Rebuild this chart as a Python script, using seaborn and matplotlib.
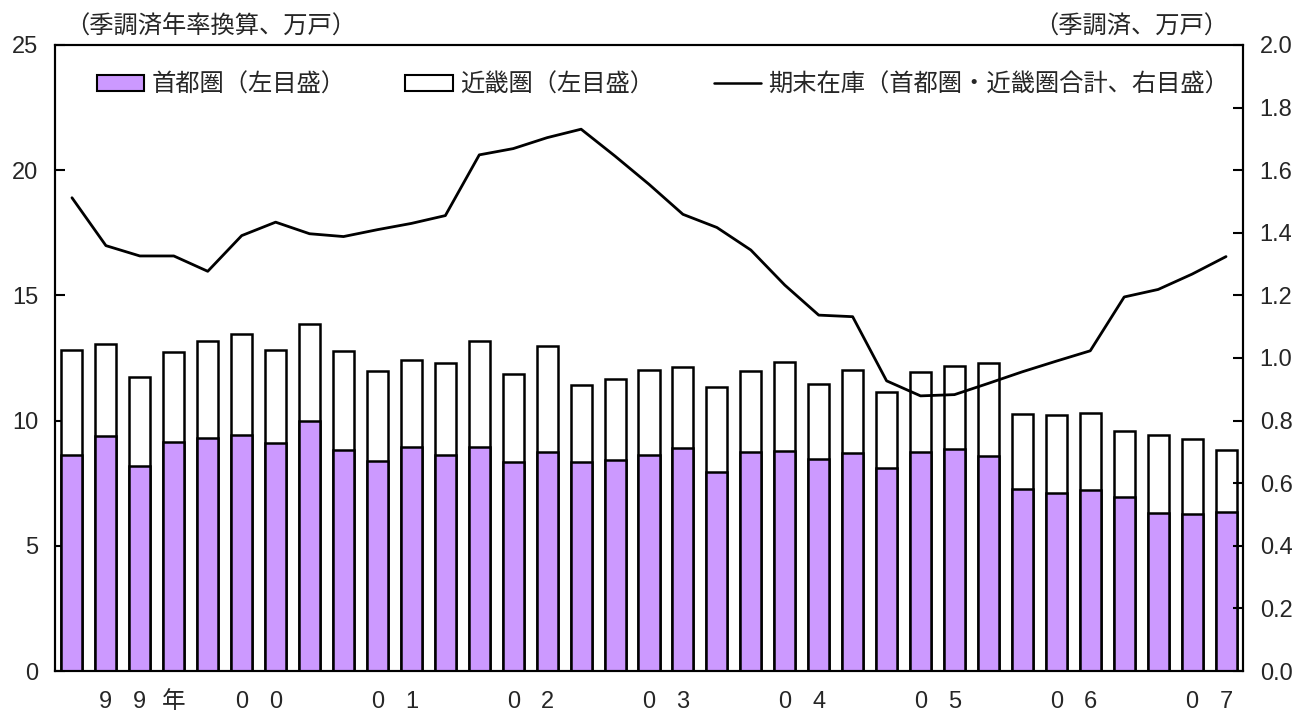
import matplotlib
matplotlib.use('Agg')
import matplotlib.pyplot as plt
import matplotlib.transforms as mtransforms
from matplotlib.patches import Patch
from matplotlib.lines import Line2D
import pandas as pd
import seaborn as sns

# データ（四半期、1999年1Q〜2007年3Q）
years = ['99', '00', '01', '02', '03', '04', '05', '06', '07']
n_quarters = [4, 4, 4, 4, 4, 4, 4, 4, 3]
year_labels = ['99年', '00', '01', '02', '03', '04', '05', '06', '07']

# 首都圏（季調済年率換算、万戸）
shutoken = [8.63, 9.38, 8.20, 9.13, 9.30, 9.44, 9.12, 9.97, 8.84, 8.40, 8.95, 8.63,
            8.96, 8.33, 8.75, 8.33, 8.43, 8.61, 8.91, 7.96, 8.76, 8.80, 8.48, 8.71,
            8.12, 8.75, 8.87, 8.59, 7.28, 7.10, 7.22, 6.94, 6.31, 6.28, 6.35]
# 近畿圏（季調済年率換算、万戸）
kinki = [4.19, 3.67, 3.53, 3.62, 3.88, 4.01, 3.69, 3.89, 3.93, 3.57, 3.46, 3.68,
         4.23, 3.52, 4.22, 3.09, 3.23, 3.42, 3.22, 3.37, 3.23, 3.55, 2.99, 3.32,
         3.02, 3.19, 3.30, 3.71, 3.00, 3.11, 3.07, 2.64, 3.10, 3.00, 2.48]
# 期末在庫（首都圏・近畿圏合計、万戸）
stock = [1.512, 1.359, 1.326, 1.326, 1.277, 1.391, 1.434, 1.397, 1.388, 1.410, 1.430, 1.455,
         1.649, 1.669, 1.704, 1.731, 1.645, 1.555, 1.459, 1.417, 1.345, 1.233, 1.137, 1.132,
         0.927, 0.879, 0.883, 0.919, 0.956, 0.990, 1.023, 1.195, 1.219, 1.268, 1.324]

quarters = [f'{y}Q{q + 1}' for y, n in zip(years, n_quarters) for q in range(n)]
df = pd.DataFrame({'quarter': quarters, 'shutoken': shutoken, 'kinki': kinki, 'stock': stock})
df['total'] = df['shutoken'] + df['kinki']
df['pos'] = range(len(df))

sns.set_style('white')
plt.rcParams['font.family'] = ['Liberation Sans', 'Noto Sans CJK JP']
purple = '#CC99FF'
fs = 17      # 目盛の数字
fs_jp = 17.5  # 日本語テキスト

fig = plt.figure(figsize=(13.03, 7.13), dpi=100)
ax = fig.add_axes([55 / 1303, 42 / 713, 1188 / 1303, 626 / 713])

# 積み上げ棒（合計を白で描いてから首都圏を重ねる）
sns.barplot(data=df, x='quarter', y='total', order=quarters, color='white', saturation=1,
            edgecolor='black', linewidth=1.8, width=0.62, ax=ax)
sns.barplot(data=df, x='quarter', y='shutoken', order=quarters, color=purple, saturation=1,
            edgecolor='black', linewidth=1.8, width=0.62, ax=ax)
ax.set_xlim(-0.5, len(df) - 0.5)
ax.set_ylim(0, 25)
ax.set_yticks(range(0, 26, 5))
ax.set_xlabel('')
ax.set_ylabel('')

# 年の区切り
bounds = [-0.5]
acc = 0
for n in n_quarters[:-1]:
    acc += n
    bounds.append(acc - 0.5)
ax.set_xticks(bounds)
ax.set_xticklabels([])
ax.tick_params(axis='x', direction='inout', length=11, width=1.5, color='black')
ax.tick_params(axis='y', direction='in', length=7, width=1.5, labelsize=fs, pad=12, color='black')

# 年ラベル（1文字ずつ棒の下に配置）
trans = mtransforms.blended_transform_factory(ax.transData, ax.transAxes)
start = 0
for lab, n in zip(year_labels, n_quarters):
    for k, ch in enumerate(lab):
        ax.text(start + 1 + k, -0.049, ch, transform=trans, ha='center', va='center', fontsize=fs)
    start += n

for sp in ax.spines.values():
    sp.set_linewidth(1.5)
    sp.set_color('black')

# 右軸：期末在庫
ax2 = ax.twinx()
sns.lineplot(data=df, x='pos', y='stock', color='black', linewidth=2.0, ax=ax2)
ax2.set_ylim(0, 2.0)
ax2.set_yticks([i / 5 for i in range(11)])
ax2.set_yticklabels([f'{i / 5:.1f}' for i in range(11)])
ax2.set_ylabel('')
ax2.set_xlabel('')
ax2.tick_params(axis='y', direction='in', length=7, width=1.5, labelsize=fs, pad=12, color='black')
ax2.set_xlim(-0.5, len(df) - 0.5)
for sp in ax2.spines.values():
    sp.set_linewidth(1.5)
    sp.set_color('black')

# 凡例
handles = [Patch(facecolor=purple, edgecolor='black', linewidth=1.5),
           Patch(facecolor='white', edgecolor='black', linewidth=1.5),
           Line2D([], [], color='black', linewidth=1.8)]
labels = ['首都圏（左目盛）', '近畿圏（左目盛）', '期末在庫（首都圏・近畿圏合計、右目盛）']
ax2.legend(handles, labels, ncol=3, loc='center left', bbox_to_anchor=(0.0354, 0.936),
           frameon=False, fontsize=fs_jp, handlelength=1.95, handleheight=0.6,
           handletextpad=0.3, columnspacing=2.45, borderpad=0, borderaxespad=0)

# 単位
fig.text(65 / 1303, 1 - 27 / 713, '（季調済年率換算、万戸）', ha='left', va='center', fontsize=fs_jp)
fig.text(1228 / 1303, 1 - 27 / 713, '（季調済、万戸）', ha='right', va='center', fontsize=fs_jp)

fig.savefig('out.png', dpi=100)
